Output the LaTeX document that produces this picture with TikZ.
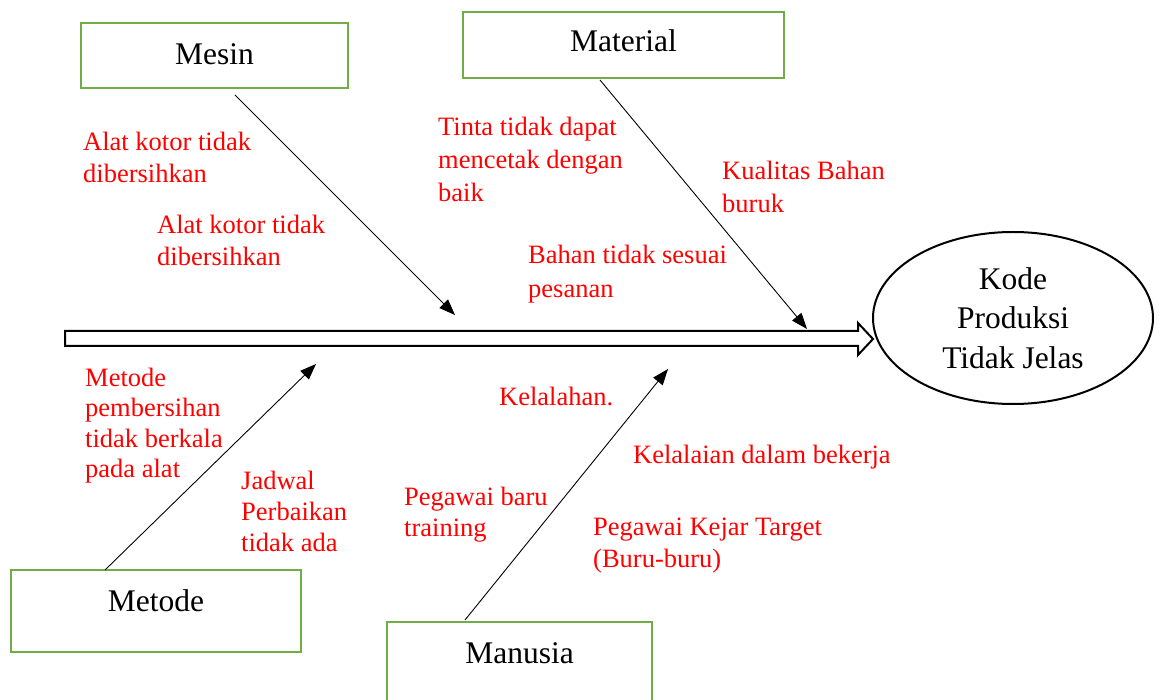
\documentclass[tikz,border=0pt]{standalone}
\usepackage{fontspec}
\setmainfont{Liberation Serif}
\usetikzlibrary{arrows.meta,shapes.geometric}
\definecolor{boxgreen}{HTML}{70AD47}
\definecolor{causered}{HTML}{FF0000}
\begin{document}
\begin{tikzpicture}[x=1pt,y=-1pt,
  catbox/.style={draw=boxgreen,line width=2.5pt,inner sep=0pt,font=\fontsize{31.5}{38}\selectfont,text height=21pt},
  cause/.style={text=causered,font=\fontsize{26.5}{32}\selectfont,align=left,anchor=base west,inner sep=0pt},
  bone/.style={line width=0.9pt,-{Triangle[length=16pt,width=12pt]}},
  spine/.style={line width=2pt,line join=miter},
]
\useasboundingbox (0,0) rectangle (1162,700);

% category boxes
\node[catbox,minimum width=267pt,minimum height=65pt,text depth=2pt] (mesin) at (214.5,55.5) {Mesin};
\node[catbox,minimum width=321pt,minimum height=66pt,text depth=7pt] (material) at (623.5,45) {Material};
\node[catbox,minimum width=290pt,minimum height=82pt,text depth=21pt] (metode) at (156,611) {Metode};
\node[catbox,minimum width=265pt,minimum height=82pt,text depth=21pt] (manusia) at (519.5,663) {Manusia};

% effect
\node[draw,ellipse,line width=2pt,minimum width=280pt,minimum height=172pt,inner sep=0pt,align=center,font=\fontsize{31.5}{39.5}\selectfont] (effect) at (1013,318) {Kode\\Produksi\\Tidak Jelas};

% spine (hollow arrow)
\coordinate (spinetail) at (65,338.5);
\coordinate (spinetip) at (873,339);
\draw[spine] (65,331) -- (858,331) -- (858,323) -- (spinetip) -- (858,355) -- (858,346) -- (65,346) -- cycle;

% bones
\coordinate (mesinS) at (235,95);   \coordinate (mesinE) at (455,315);
\coordinate (materialS) at (600,80); \coordinate (materialE) at (807,329);
\coordinate (metodeS) at (105,570); \coordinate (metodeE) at (316,364);
\coordinate (manusiaS) at (465,620); \coordinate (manusiaE) at (668,369);
\draw[bone] (mesinS) -- (mesinE);
\draw[bone] (materialS) -- (materialE);
\draw[bone] (metodeS) -- (metodeE);
\draw[bone] (manusiaS) -- (manusiaE);

% causes (anchor = baseline of the last line)
\node[cause] (c1) at (83,183) {Alat kotor tidak\\dibersihkan};
\node[cause] (c2) at (157,266) {Alat kotor tidak\\dibersihkan};
\node[cause,font=\fontsize{26.5}{33}\selectfont] (c3) at (438,202) {Tinta tidak dapat\\mencetak dengan\\baik};
\node[cause,font=\fontsize{26.5}{33}\selectfont] (c4) at (722,213) {Kualitas Bahan\\buruk};
\node[cause,font=\fontsize{26.5}{34}\selectfont] (c5) at (528,298) {Bahan tidak sesuai\\pesanan};
\node[cause,font=\fontsize{26.5}{30.5}\selectfont] (c6) at (85,477.5) {Metode\\pembersihan\\tidak berkala\\pada alat};
\node[cause,font=\fontsize{26.5}{31}\selectfont] (c7) at (241,551) {Jadwal\\Perbaikan\\tidak ada};
\node[cause] (c8) at (499,406) {Kelalahan.};
\node[cause] (c9) at (633,463) {Kelalaian dalam bekerja};
\node[cause,font=\fontsize{26.5}{31}\selectfont] (c10) at (404,536) {Pegawai baru\\training};
\node[cause] (c11) at (593,567) {Pegawai Kejar Target\\(Buru-buru)};
\end{tikzpicture}
\end{document}
